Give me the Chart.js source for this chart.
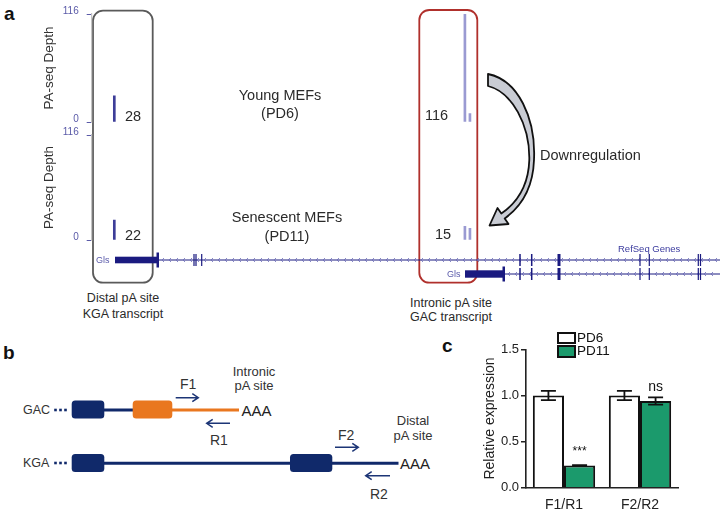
<!DOCTYPE html>
<html><head><meta charset="utf-8">
<script src="https://cdn.jsdelivr.net/npm/chart.js@4.4.0/dist/chart.umd.min.js"></script>
<style>
html,body{margin:0;padding:0;background:#fff;width:720px;height:509px;overflow:hidden;font-family:"Liberation Sans",Arial,sans-serif;}
#root{position:relative;width:720px;height:509px;}
.t{position:absolute;white-space:nowrap;line-height:1;color:#2a2a2a;}
canvas{position:absolute;}
#svg{position:absolute;left:0;top:0;}
</style></head><body><div id="root">
<svg id="svg" width="720" height="509" xmlns="http://www.w3.org/2000/svg"></svg>
<canvas id="trackYoung" width="680" height="136" style="left:40px;top:0px"></canvas>
<canvas id="trackSen" width="680" height="133" style="left:40px;top:121px"></canvas>
<canvas id="qpcr" width="212" height="179" style="left:478px;top:330px"></canvas>
</div>
<script>
// ---------- DATA ----------
// Panel a: PA-seq depth tracks (positions in kb along the Gls locus)
const paSitePos = [3.6, 59.4, 60.2];
const youngDepth = [28, 116, 9];
const senescentDepth = [22, 15, 13];
const depthMax = 116;
const depthTicks = [0, 116];
const siteLabelsYoung = ['28', '116'];
const siteLabelsSen = ['22', '15'];
// Panel c: qPCR relative expression
const categories = ['F1/R1', 'F2/R2'];
const seriesNames = ['PD6', 'PD11'];
const pd6 = [1.0, 1.0];
const pd6Err = [0.05, 0.05];
const pd11 = [0.24, 0.94];
const pd11Err = [0.005, 0.04];
const sigLabels = ['***', 'ns'];
const yTicksC = [0, 0.5, 1.0, 1.5];

const FAM = '"Liberation Sans", Arial, sans-serif';
const root = document.getElementById('root');
function T(text, x, y, o) {
  o = o || {};
  const d = document.createElement('div');
  d.className = 't';
  d.textContent = text;
  d.style.left = x + 'px';
  d.style.top = y + 'px';
  d.style.fontSize = (o.size || 13) + 'px';
  if (o.color) d.style.color = o.color;
  if (o.bold) d.style.fontWeight = 'bold';
  const ax = o.align === 'c' ? '-50%' : (o.align === 'r' ? '-100%' : '0');
  d.style.transform = 'translate(' + ax + ',-50%)';
  root.appendChild(d);
}

// ---------- SVG decorations ----------
let s = '';
const NAVY = '#1a1a80';
s += '<rect x="93" y="10.7" width="59.7" height="272" rx="10" fill="none" stroke="#5a5a5a" stroke-width="1.8"/>';
s += '<rect x="419.3" y="10" width="58" height="272.7" rx="10" fill="none" stroke="#b0302c" stroke-width="1.8"/>';
function geneLine(x1, x2, y) {
  let p = '<line x1="' + x1 + '" y1="' + y + '" x2="' + x2 + '" y2="' + y + '" stroke="' + NAVY + '" stroke-width="1"/>';
  for (let x = x1 + 4; x < x2 - 2; x += 7) {
    p += '<path d="M' + (x + 2) + ' ' + (y - 2) + ' L' + x + ' ' + y + ' L' + (x + 2) + ' ' + (y + 2) + '" fill="none" stroke="#6a6ab8" stroke-width="0.8"/>';
  }
  return p;
}
s += geneLine(158, 720, 260);
s += geneLine(504, 720, 274);
s += '<rect x="115" y="256.7" width="42" height="6.6" fill="' + NAVY + '"/>';
s += '<rect x="156.5" y="252.5" width="2.5" height="15" fill="' + NAVY + '"/>';
s += '<rect x="465" y="270.3" width="38.5" height="7.4" fill="' + NAVY + '"/>';
s += '<rect x="502.5" y="266.5" width="2.5" height="15" fill="' + NAVY + '"/>';
const ex1 = [[194,1.2],[196,1.2],[201.7,1.2],[520,1.5],[531.7,1.5],[559,3],[640,1.2],[649.3,1.2],[698.3,1.2],[700.5,1.2]];
const ex2 = [[520,1.5],[531.7,1.5],[559,3],[640,1.2],[649.3,1.2],[698.3,1.2],[700.5,1.2]];
ex1.forEach(e => { s += '<rect x="' + (e[0] - e[1] / 2) + '" y="254" width="' + e[1] + '" height="12" fill="' + NAVY + '"/>'; });
ex2.forEach(e => { s += '<rect x="' + (e[0] - e[1] / 2) + '" y="268" width="' + e[1] + '" height="12" fill="' + NAVY + '"/>'; });
s += '<path d="M488 74 C518 80 536 118 534 160 C533 188 522 206 504.7 218.4 L508.5 224 L489.5 225.5 L497.5 208 L501.3 213.6 C518 202 528.5 185 529.3 160 C530 125 512 92 488 86 Z" fill="#c9ccd4" stroke="#111" stroke-width="1.8" stroke-linejoin="round"/>';
const BN = '#10296a', OR = '#e9771f';
function dots(y) { let p=''; [55.5, 60.5, 65.5].forEach(x => { p += '<rect x="' + (x - 1.3) + '" y="' + (y - 1.3) + '" width="2.6" height="2.6" fill="' + BN + '"/>'; }); return p; }
s += dots(410) + dots(463);
s += '<line x1="104" y1="410" x2="134" y2="410" stroke="' + BN + '" stroke-width="3"/>';
s += '<line x1="171" y1="410" x2="239" y2="410" stroke="' + OR + '" stroke-width="3"/>';
s += '<rect x="71.7" y="400.5" width="32.6" height="18" rx="3.5" fill="' + BN + '"/>';
s += '<rect x="132.7" y="400.5" width="39.6" height="18" rx="3.5" fill="' + OR + '"/>';
s += '<line x1="104" y1="463.3" x2="398.5" y2="463.3" stroke="' + BN + '" stroke-width="3"/>';
s += '<rect x="71.7" y="454" width="32.6" height="18" rx="3.5" fill="' + BN + '"/>';
s += '<rect x="290" y="454" width="42.3" height="18" rx="3.5" fill="' + BN + '"/>';
function arrow(x1, x2, y) {
  const d = x2 > x1 ? -1 : 1;
  return '<path d="M' + x1 + ' ' + y + ' L' + x2 + ' ' + y + ' M' + (x2 + d * 6) + ' ' + (y - 4) + ' L' + x2 + ' ' + y + ' L' + (x2 + d * 6) + ' ' + (y + 4) + '" fill="none" stroke="#1c3576" stroke-width="1.5"/>';
}
s += arrow(175.7, 198.3, 397.7) + arrow(230, 206.7, 423.3) + arrow(335, 358.3, 447.3) + arrow(390, 365.7, 475.7);
document.getElementById('svg').innerHTML = s;

// ---------- TEXT ----------
T('a', 4, 13, {size: 19, bold: true, color: '#111'});
T('b', 3, 352, {size: 19, bold: true, color: '#111'});
T('c', 442, 345, {size: 19, bold: true, color: '#111'});
T(siteLabelsYoung[0], 125, 116, {size: 14.5});
T(siteLabelsYoung[1], 425, 115, {size: 14.5});
T(siteLabelsSen[0], 125, 235, {size: 14.5});
T(siteLabelsSen[1], 435, 234, {size: 14.5});
T('Young MEFs', 280, 95, {size: 14.5, align: 'c'});
T('(PD6)', 280, 113, {size: 14.5, align: 'c'});
T('Senescent MEFs', 287, 217, {size: 14.5, align: 'c'});
T('(PD11)', 287, 236, {size: 14.5, align: 'c'});
T('Downregulation', 540, 155, {size: 14.5});
T('Distal pA site', 123, 298, {size: 12.5, align: 'c'});
T('KGA transcript', 123, 314, {size: 12.5, align: 'c'});
T('Intronic pA site', 410, 302.7, {size: 12.5});
T('GAC transcript', 410, 317, {size: 12.5});
T('RefSeq Genes', 618, 249, {size: 9.5, color: '#3a3a9e'});
T('Gls', 96, 260, {size: 9, color: '#5a5aaa'});
T('Gls', 447, 274, {size: 9, color: '#5a5aaa'});
T('GAC', 23, 410, {size: 12.5, color: '#333'});
T('KGA', 23, 463.3, {size: 12.5, color: '#333'});
T('AAA', 241.5, 410, {size: 15, color: '#222'});
T('AAA', 400, 463.3, {size: 15, color: '#222'});
T('F1', 180, 383.5, {size: 14, color: '#333'});
T('R1', 210, 439.5, {size: 14, color: '#333'});
T('F2', 338, 435, {size: 14, color: '#333'});
T('R2', 370, 493.5, {size: 14, color: '#333'});
T('Intronic', 254, 371, {size: 13, align: 'c', color: '#333'});
T('pA site', 254, 385, {size: 13, align: 'c', color: '#333'});
T('Distal', 413, 420, {size: 13, align: 'c', color: '#333'});
T('pA site', 413, 435, {size: 13, align: 'c', color: '#333'});
function legendItem(y, fill, label) {
  const b = document.createElement('div');
  b.style.cssText = 'position:absolute;left:557px;top:' + (y - 6) + 'px;width:14.5px;height:8.5px;border:2px solid #111;background:' + fill + ';';
  root.appendChild(b);
  T(label, 577, y, {size: 13.5, color: '#111'});
}
legendItem(337.5, '#fff', seriesNames[0]);
legendItem(351, '#1b9a6c', seriesNames[1]);

// ---------- CHARTS ----------
function trackChart(id, depths, colors) {
  return new Chart(document.getElementById(id), {
    type: 'bar',
    data: {datasets: [{data: paSitePos.map((x, i) => ({x: x, y: depths[i]})), backgroundColor: colors, barThickness: 2, borderWidth: 0}]},
    options: {
      responsive: false, animation: false, events: [],
      layout: {padding: 0},
      plugins: {legend: {display: false}, tooltip: {enabled: false}},
      scales: {
        x: {type: 'linear', min: 0, max: 100, display: false, offset: false, grid: {offset: false}},
        y: {
          min: 0, max: depthMax,
          afterBuildTicks: sc => { sc.ticks = depthTicks.map(v => ({value: v})); },
          afterFit: sc => { sc.width = 51.7; },
          ticks: {color: '#5a5aa8', font: {size: 10, family: FAM}, padding: 8, labelOffset: -3},
          grid: {drawOnChartArea: false, tickLength: 5, color: '#5a5aa8'},
          border: {color: '#c4c4c4', width: 1.2},
          title: {display: true, text: 'PA-seq Depth', color: '#333', font: {size: 13.5, family: FAM}, padding: {top: 1, bottom: 0}}
        }
      }
    }
  });
}
trackChart('trackYoung', youngDepth, ['#3d3d98', '#9a9ad2', '#9a9ad2']);
trackChart('trackSen', senescentDepth, ['#3d3d98', '#9a9ad2', '#9a9ad2']);

const errorBars = {
  id: 'errorBars',
  afterDatasetsDraw(chart) {
    const ctx = chart.ctx, ys = chart.scales.y;
    chart.data.datasets.forEach((ds, di) => {
      const meta = chart.getDatasetMeta(di);
      meta.data.forEach((bar, i) => {
        const v = ds.data[i], e = ds.errors[i];
        const top = ys.getPixelForValue(v + e), bot = ys.getPixelForValue(v - e);
        ctx.save();
        ctx.strokeStyle = '#111'; ctx.lineWidth = 1.8;
        ctx.beginPath();
        ctx.moveTo(bar.x, top); ctx.lineTo(bar.x, bot);
        ctx.moveTo(bar.x - 7.5, top); ctx.lineTo(bar.x + 7.5, top);
        ctx.moveTo(bar.x - 7.5, bot); ctx.lineTo(bar.x + 7.5, bot);
        ctx.stroke();
        if (ds.sig) {
          const lab = ds.sig[i];
          ctx.fillStyle = '#111';
          ctx.textAlign = 'center';
          ctx.textBaseline = 'bottom';
          ctx.font = (lab === 'ns' ? '14px ' : '12px ') + FAM;
          ctx.fillText(lab, bar.x, top - (lab === 'ns' ? 3 : 7));
        }
        ctx.restore();
      });
    });
  }
};

new Chart(document.getElementById('qpcr'), {
  type: 'bar',
  data: {
    labels: categories,
    datasets: [
      {label: seriesNames[0], data: pd6, errors: pd6Err, backgroundColor: '#ffffff', borderColor: '#111', borderWidth: 2, categoryPercentage: 0.82, barPercentage: 1.0},
      {label: seriesNames[1], data: pd11, errors: pd11Err, sig: sigLabels, backgroundColor: '#1b9a6c', borderColor: '#111', borderWidth: 2, categoryPercentage: 0.82, barPercentage: 1.0}
    ]
  },
  options: {
    responsive: false, animation: false, events: [],
    layout: {padding: {top: 19.3, right: 12, bottom: 0, left: 0}},
    plugins: {legend: {display: false}, tooltip: {enabled: false}},
    scales: {
      x: {
        afterFit: sc => { sc.height = 21.3; },
        grid: {display: false},
        border: {display: true, color: '#222', width: 1.6},
        ticks: {color: '#222', font: {size: 14, family: FAM}, padding: 1}
      },
      y: {
        min: 0, max: 1.5,
        afterBuildTicks: sc => { sc.ticks = yTicksC.map(v => ({value: v})); },
        afterFit: sc => { sc.width = 48; },
        ticks: {color: '#222', font: {size: 13, family: FAM}, padding: 2, callback: v => Number(v).toFixed(1)},
        grid: {drawOnChartArea: false, tickLength: 5, color: '#222', lineWidth: 1.5},
        border: {color: '#222', width: 1.6},
        title: {display: true, text: 'Relative expression', color: '#222', font: {size: 14, family: FAM}, padding: {top: 3.6, bottom: 0}}
      }
    }
  },
  plugins: [errorBars]
});
</script>
</body></html>
